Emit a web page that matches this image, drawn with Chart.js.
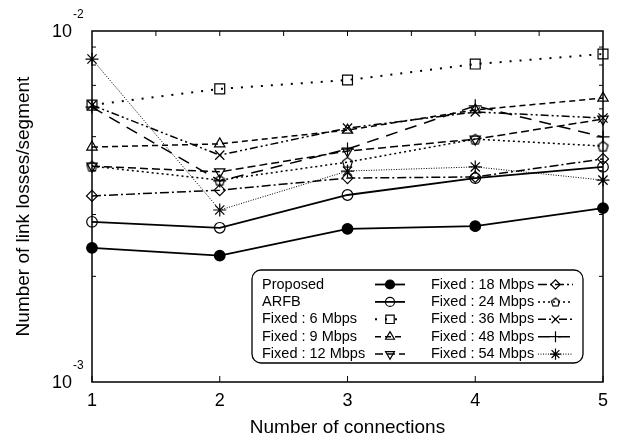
<!DOCTYPE html>
<html>
<head>
<meta charset="utf-8">
<script src="https://cdn.jsdelivr.net/npm/chart.js@4.4.0/dist/chart.umd.min.js"></script>
<style>
  html, body { margin: 0; padding: 0; background: #fff; }
  #wrap { width: 623px; height: 441px; }
</style>
</head>
<body>
<div id="wrap"><canvas id="c" width="623" height="441"></canvas></div>
<script>
// data (link losses per segment)
const connections = [1, 2, 3, 4, 5];
const proposed = [2.41e-3, 2.29e-3, 2.73e-3, 2.78e-3, 3.13e-3];
const arfb     = [2.86e-3, 2.75e-3, 3.41e-3, 3.81e-3, 4.10e-3];
const fixed6   = [6.15e-3, 6.84e-3, 7.25e-3, 8.05e-3, 8.60e-3];
const fixed9   = [4.67e-3, 4.77e-3, 5.22e-3, 5.96e-3, 6.44e-3];
const fixed12  = [4.12e-3, 3.97e-3, 4.55e-3, 4.92e-3, 5.61e-3];
const fixed18  = [3.39e-3, 3.52e-3, 3.81e-3, 3.84e-3, 4.32e-3];
const fixed24  = [4.12e-3, 3.76e-3, 4.23e-3, 4.92e-3, 4.70e-3];
const fixed36  = [6.15e-3, 4.43e-3, 5.29e-3, 5.88e-3, 5.65e-3];
const fixed48  = [6.07e-3, 3.74e-3, 4.61e-3, 6.12e-3, 4.99e-3];
const fixed54  = [8.32e-3, 3.09e-3, 3.99e-3, 4.10e-3, 3.76e-3];

const xTicks = [1, 2, 3, 4, 5];
const yMajor = [1e-3, 1e-2];
const yMajorExp = ['-3', '-2'];
const yMinor = [2e-3, 3e-3, 4e-3, 5e-3, 6e-3, 7e-3, 8e-3, 9e-3];

const FONT = '"Liberation Sans", Arial, sans-serif';

// pentagon marker (not built into Chart.js)
function makePentagon(size) {
    const cv = document.createElement('canvas');
    cv.width = size; cv.height = size;
    const g = cv.getContext('2d');
    const r = size / 2 - 1.2;
    g.strokeStyle = '#000';
    g.lineWidth = 1.2;
    g.beginPath();
    for (let i = 0; i < 5; i++) {
        const a = -Math.PI / 2 + i * 2 * Math.PI / 5;
        const px = size / 2 + r * Math.cos(a);
        const py = size / 2 + 0.6 + r * Math.sin(a);
        if (i === 0) g.moveTo(px, py); else g.lineTo(px, py);
    }
    g.closePath();
    g.stroke();
    return cv;
}
const pentagon = makePentagon(13);
const pentagonSmall = makePentagon(11);

function series(label, values, opts) {
    return Object.assign({
        label: label,
        data: values.map((v, i) => ({ x: connections[i], y: v })),
        borderColor: '#000',
        backgroundColor: 'rgba(0,0,0,0)',
        borderWidth: 1.5,
        pointBorderColor: '#000',
        pointBorderWidth: 1.2,
        pointRadius: 5,
        pointHoverRadius: 5,
        tension: 0,
        clip: false
    }, opts);
}

const datasets = [
    series('Proposed', proposed, { borderWidth: 1.8, pointStyle: 'circle', pointBackgroundColor: '#000', pointRadius: 5.3 }),
    series('ARFB', arfb, { borderWidth: 1.8, pointStyle: 'circle', pointBackgroundColor: 'rgba(0,0,0,0)', pointRadius: 5.3 }),
    series('Fixed : 6 Mbps', fixed6, { borderDash: [2, 8], borderWidth: 2, pointStyle: 'rect', pointRadius: 7 }),
    series('Fixed : 9 Mbps', fixed9, { borderDash: [6, 4], pointStyle: 'triangle', pointRadius: 6 }),
    series('Fixed : 12 Mbps', fixed12, { borderDash: [8, 4], pointStyle: 'triangle', pointRotation: 180, pointRadius: 6 }),
    series('Fixed : 18 Mbps', fixed18, { borderDash: [9, 3, 2, 3], pointStyle: 'rectRot', pointRadius: 5.5 }),
    series('Fixed : 24 Mbps', fixed24, { borderDash: [2, 3], pointStyle: pentagon }),
    series('Fixed : 36 Mbps', fixed36, { borderDash: [8, 3, 2, 3, 2, 3], pointStyle: 'crossRot', pointRadius: 6.5 }),
    series('Fixed : 48 Mbps', fixed48, { borderDash: [12, 8], pointStyle: 'cross', pointRadius: 6.5 }),
    series('Fixed : 54 Mbps', fixed54, { borderDash: [1, 1.5], borderWidth: 1, pointStyle: 'star', pointRadius: 6.5 })
];

function drawMarker(ctx, ds, x, y, scale) {
    ctx.save();
    ctx.strokeStyle = '#000';
    ctx.fillStyle = ds.pointBackgroundColor || 'rgba(0,0,0,0)';
    ctx.lineWidth = ds.pointBorderWidth;
    let style = ds.pointStyle;
    if (style === pentagon) style = pentagonSmall;
    Chart.helpers.drawPoint(ctx, {
        pointStyle: style,
        radius: ds.pointRadius * scale,
        rotation: ds.pointRotation || 0,
        borderWidth: ds.pointBorderWidth
    }, x, y);
    ctx.restore();
}

const framePlugin = {
    id: 'frame',
    beforeDatasetsDraw(chart) {
        const { ctx, chartArea: a, scales } = chart;
        const xs = scales.x, ys = scales.y;
        ctx.save();
        ctx.strokeStyle = '#000';
        ctx.lineWidth = 1.5;
        ctx.strokeRect(a.left, a.top, a.right - a.left, a.bottom - a.top);
        ctx.lineWidth = 1;
        ctx.beginPath();
        // x ticks: integers at bottom, every half on top
        xTicks.forEach(t => {
            const px = xs.getPixelForValue(t);
            ctx.moveTo(px, a.bottom); ctx.lineTo(px, a.bottom - 6);
        });
        for (let t = 1.5; t < 5; t += 0.5) {
            const px = xs.getPixelForValue(t);
            ctx.moveTo(px, a.top); ctx.lineTo(px, a.top + 5);
        }
        yMinor.forEach(t => {
            const py = ys.getPixelForValue(t);
            ctx.moveTo(a.left, py); ctx.lineTo(a.left + 4, py);
            ctx.moveTo(a.right, py); ctx.lineTo(a.right - 4, py);
        });
        ctx.stroke();

        ctx.fillStyle = '#000';
        ctx.font = '18px ' + FONT;
        ctx.textAlign = 'center';
        ctx.textBaseline = 'middle';
        xTicks.forEach(t => ctx.fillText(String(t), xs.getPixelForValue(t), 401));

        yMajor.forEach((t, i) => {
            const py = ys.getPixelForValue(t);
            ctx.font = '18px ' + FONT;
            ctx.textAlign = 'right';
            ctx.fillText('10', 72, py + 1);
            ctx.font = '12px ' + FONT;
            ctx.textAlign = 'left';
            ctx.fillText(yMajorExp[i], 73, py - 16);
        });

        ctx.font = '19px ' + FONT;
        ctx.textAlign = 'center';
        ctx.fillText('Number of connections', (a.left + a.right) / 2, 428);
        ctx.save();
        ctx.translate(24, (a.top + a.bottom) / 2);
        ctx.rotate(-Math.PI / 2);
        ctx.fillText('Number of link losses/segment', 0, 0);
        ctx.restore();
        ctx.restore();
    },
    afterDatasetsDraw(chart) {
        const ctx = chart.ctx;
        ctx.save();
        // key box
        ctx.strokeStyle = '#000';
        ctx.lineWidth = 1.3;
        ctx.beginPath();
        ctx.roundRect(252, 270, 331, 93, 9);
        ctx.stroke();

        const cols = [
            { text: 262, l0: 375, l1: 405 },
            { text: 431, l0: 538, l1: 573 }
        ];
        ctx.font = '14.5px ' + FONT;
        ctx.textBaseline = 'middle';
        ctx.textAlign = 'left';
        chart.data.datasets.forEach((ds, i) => {
            const col = cols[Math.floor(i / 5)];
            const y = 284.5 + (i % 5) * 17.4;
            ctx.fillStyle = '#000';
            ctx.fillText(ds.label, col.text, y);
            ctx.save();
            ctx.lineWidth = ds.borderWidth;
            ctx.setLineDash(ds.borderDash || []);
            ctx.beginPath();
            ctx.moveTo(col.l0, y); ctx.lineTo(col.l1, y);
            ctx.stroke();
            ctx.restore();
            drawMarker(ctx, ds, (col.l0 + col.l1) / 2, y, 0.85);
        });
        ctx.restore();
    }
};

new Chart(document.getElementById('c').getContext('2d'), {
    type: 'line',
    data: { datasets: datasets },
    options: {
        responsive: false,
        animation: false,
        devicePixelRatio: 1,
        layout: { padding: { left: 92, top: 31, right: 20, bottom: 59 } },
        scales: {
            x: { type: 'linear', min: 1, max: 5, display: false },
            y: { type: 'logarithmic', min: 1e-3, max: 1e-2, display: false }
        },
        plugins: {
            legend: { display: false },
            tooltip: { enabled: false }
        }
    },
    plugins: [framePlugin]
});
</script>
</body>
</html>
